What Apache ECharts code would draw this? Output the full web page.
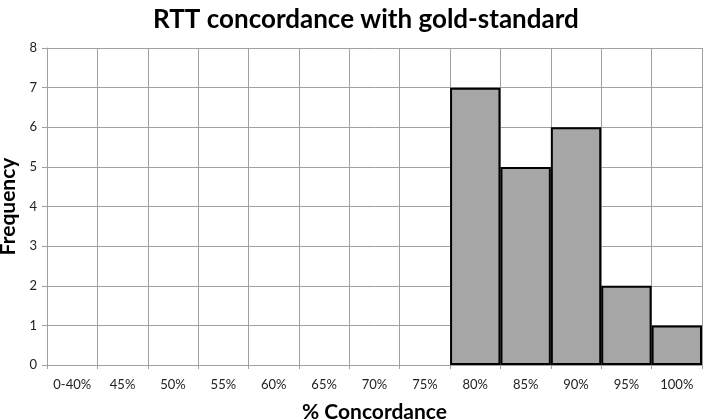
<!DOCTYPE html>
<html><head><meta charset="utf-8">
<script src="https://cdn.jsdelivr.net/npm/echarts@6/dist/echarts.min.js"></script>
<style>html,body{margin:0;padding:0;background:#fff}#c{width:703px;height:420px}</style>
</head><body><div id="c"></div>
<script>
const categories = ['0-40%','45%','50%','55%','60%','65%','70%','75%','80%','85%','90%','95%','100%'];
const frequency = [0,0,0,0,0,0,0,0,7,5,6,2,1];
const yTicks = {min:0, max:8, interval:1};
const chart = echarts.init(document.getElementById('c'), null, {renderer:'canvas'});
chart.setOption({
  animation:false,
  backgroundColor:'#fff',
  title:{text:'RTT concordance with gold-standard', left:148, top:2,
    textStyle:{fontFamily:'Lato', fontWeight:'bold', fontSize:26, color:'#000'}},
  grid:{left:47, right:1, top:48, bottom:55, containLabel:false, outerBoundsMode:'none'},
  xAxis:{type:'category', data:categories, boundaryGap:true,
    name:'% Concordance', nameLocation:'middle', nameGap:37,
    nameTextStyle:{fontFamily:'Lato', fontWeight:'bold', fontSize:21, color:'#000'},
    axisLine:{show:true, lineStyle:{color:'#a0a0a0', width:1}},
    axisTick:{show:true, alignWithLabel:false, length:4, lineStyle:{color:'#a0a0a0'}},
    axisLabel:{fontFamily:'Lato', fontSize:13, color:'#222', margin:13, interval:0},
    splitLine:{show:true, lineStyle:{color:'#a0a0a0', width:1}}},
  yAxis:{type:'value', min:yTicks.min, max:yTicks.max, interval:yTicks.interval,
    name:'Frequency', nameLocation:'middle', nameGap:27, nameRotate:90,
    nameTextStyle:{fontFamily:'Lato', fontWeight:'bold', fontSize:21, color:'#000'},
    axisLine:{show:true, lineStyle:{color:'#a0a0a0', width:1}},
    axisTick:{show:true, length:5, lineStyle:{color:'#a0a0a0'}},
    axisLabel:{fontFamily:'Lato', fontSize:13, color:'#222', margin:10},
    splitLine:{show:true, lineStyle:{color:'#a0a0a0', width:1}}},
  series:[{type:'bar', barCategoryGap:'0%',
    data:frequency.map(v => ({value:v, itemStyle:{borderWidth: v > 0 ? 2 : 0}})),
    itemStyle:{color:'#a6a6a6', borderColor:'#000', borderWidth:2}}]
});
</script></body></html>
